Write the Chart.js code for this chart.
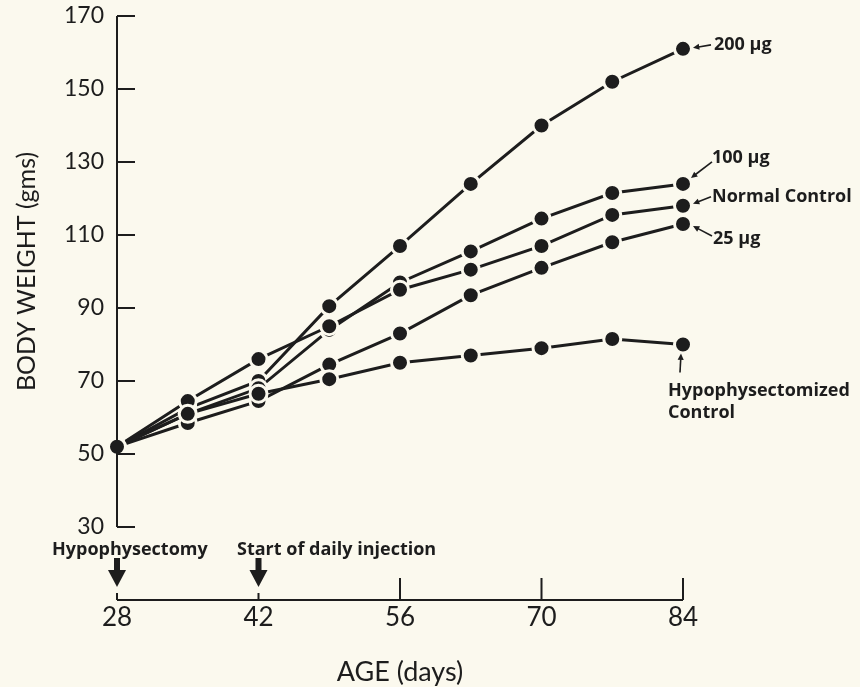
<!DOCTYPE html>
<html>
<head>
<meta charset="utf-8">
<script src="https://cdn.jsdelivr.net/npm/chart.js@4.4.0/dist/chart.umd.min.js"></script>
<style>
  html, body { margin: 0; padding: 0; background: #fbf9ee; }
  #wrap { width: 860px; height: 687px; }
</style>
</head>
<body>
<div id="wrap"><canvas id="grafico"></canvas></div>
<script>
// Datos (peso corporal en gramos por edad en días)
const ages = [28, 35, 42, 49, 56, 63, 70, 77, 84];
const dose200 = [52, 62.5, 70, 90.5, 107, 124, 140, 152, 161];
const dose100 = [52, 61, 68, 84, 97, 105.5, 114.5, 121.5, 124];
const normalControl = [52, 64.5, 76, 85, 95, 100.5, 107, 115.5, 118];
const dose25 = [52, 58.5, 64.5, 74.5, 83, 93.5, 101, 108, 113];
const hypoControl = [52, 61, 66.5, 70.5, 75, 77, 79, 81.5, 80];
const xTicks = [28, 42, 56, 70, 84];
const yTicks = [30, 50, 70, 90, 110, 130, 150, 170];

const ink = "#1d1d1d";
const paper = "#fbf9ee";

const serie = (label, values) => ({
  label: label,
  data: ages.map((a, i) => ({ x: a, y: values[i] })),
  borderColor: ink,
  borderWidth: 3,
  pointRadius: 8.5,
  pointBackgroundColor: ink,
  pointBorderColor: paper,
  pointBorderWidth: 3,
  tension: 0,
  clip: false,
});

const arrow = (ctx, x1, y1, x2, y2, head) => {
  const ang = Math.atan2(y2 - y1, x2 - x1);
  ctx.beginPath();
  ctx.moveTo(x1, y1);
  ctx.lineTo(x2 - Math.cos(ang) * head * 0.8, y2 - Math.sin(ang) * head * 0.8);
  ctx.stroke();
  ctx.beginPath();
  ctx.moveTo(x2, y2);
  ctx.lineTo(x2 - head * Math.cos(ang - 0.45), y2 - head * Math.sin(ang - 0.45));
  ctx.lineTo(x2 - head * Math.cos(ang + 0.45), y2 - head * Math.sin(ang + 0.45));
  ctx.closePath();
  ctx.fill();
};

// Ejes, flechas y rótulos dibujados con las escalas del gráfico
const ejes = {
  id: "ejes",
  afterDraw(chart) {
    const ctx = chart.ctx;
    const x = chart.scales.x;
    const y = chart.scales.y;
    const left = x.getPixelForValue(28);
    const bottom = chart.chartArea.bottom;
    ctx.save();
    ctx.strokeStyle = ink;
    ctx.fillStyle = ink;
    ctx.lineWidth = 2;

    // eje y y sus marcas
    ctx.beginPath();
    ctx.moveTo(left, y.getPixelForValue(170));
    ctx.lineTo(left, y.getPixelForValue(30));
    yTicks.forEach((v) => {
      ctx.moveTo(left, y.getPixelForValue(v));
      ctx.lineTo(left + 18, y.getPixelForValue(v));
    });
    // eje x y sus marcas
    ctx.moveTo(left, bottom);
    ctx.lineTo(x.getPixelForValue(84), bottom);
    xTicks.forEach((v) => {
      const h = v <= 42 ? 7 : 22;
      ctx.moveTo(x.getPixelForValue(v), bottom);
      ctx.lineTo(x.getPixelForValue(v), bottom - h);
    });
    ctx.stroke();

    // títulos de los ejes
    ctx.font = "25px Lato";
    ctx.textAlign = "center";
    ctx.textBaseline = "middle";
    ctx.save();
    ctx.translate(27, (y.getPixelForValue(30) + y.getPixelForValue(170)) / 2);
    ctx.rotate(-Math.PI / 2);
    ctx.fillText("BODY WEIGHT (gms)", 0, 0);
    ctx.restore();
    ctx.font = "27px Lato";
    ctx.fillText("AGE (days)", (left + x.getPixelForValue(84)) / 2, 672);

    // flechas gruesas de eventos
    ctx.font = "bold 18px 'Open Sans'";
    ctx.textAlign = "left";
    ctx.fillText("Hypophysectomy", 52, 550);
    ctx.fillText("Start of daily injection", 237, 550);
    [28, 42].forEach((v) => {
      const px = x.getPixelForValue(v);
      ctx.fillRect(px - 3, 558, 6, 13);
      ctx.beginPath();
      ctx.moveTo(px - 9, 570);
      ctx.lineTo(px + 9, 570);
      ctx.lineTo(px, 587);
      ctx.closePath();
      ctx.fill();
    });

    // rótulos de las series
    const fin = (values) => ({
      px: x.getPixelForValue(84),
      py: y.getPixelForValue(values[values.length - 1]),
    });
    ctx.lineWidth = 1.6;
    let p = fin(dose200);
    ctx.fillText("200 µg", p.px + 31, p.py - 4);
    arrow(ctx, p.px + 28, p.py - 4, p.px + 10, p.py - 1, 7);
    p = fin(dose100);
    ctx.fillText("100 µg", p.px + 29, p.py - 26);
    arrow(ctx, p.px + 29, p.py - 22, p.px + 8, p.py - 6, 7);
    p = fin(normalControl);
    ctx.fillText("Normal Control", p.px + 29, p.py - 9);
    arrow(ctx, p.px + 28, p.py - 9, p.px + 10, p.py - 2, 7);
    p = fin(dose25);
    ctx.fillText("25 µg", p.px + 30, p.py + 15);
    arrow(ctx, p.px + 29, p.py + 12, p.px + 10, p.py + 2, 7);
    p = fin(hypoControl);
    arrow(ctx, p.px - 3, p.py + 28, p.px - 2, p.py + 9, 7);
    ctx.fillText("Hypophysectomized", p.px - 15, p.py + 46);
    ctx.fillText("Control", p.px - 15, p.py + 68);
    ctx.restore();
  },
};

new Chart(document.getElementById("grafico"), {
  type: "line",
  data: {
    datasets: [
      serie("Hypophysectomized Control", hypoControl),
      serie("25 µg", dose25),
      serie("Normal Control", normalControl),
      serie("100 µg", dose100),
      serie("200 µg", dose200),
    ],
  },
  options: {
    responsive: true,
    maintainAspectRatio: false,
    animation: false,
    layout: { padding: { top: 16, right: 177, bottom: 0, left: 0 } },
    scales: {
      x: {
        type: "linear",
        min: 28,
        max: 84,
        afterBuildTicks: (s) => { s.ticks = xTicks.map((v) => ({ value: v })); },
        afterFit: (s) => { s.height = 87; },
        grid: { display: false, drawTicks: false },
        border: { display: false },
        ticks: { color: ink, font: { family: "Lato", size: 26 }, padding: 2 },
      },
      y: {
        min: 10,
        max: 170,
        afterBuildTicks: (s) => { s.ticks = yTicks.map((v) => ({ value: v })); },
        afterFit: (s) => {
          s.width = 117;
          s.paddingTop = 0;
          s.paddingBottom = 0;
        },
        grid: { display: false, drawTicks: false },
        border: { display: false },
        ticks: { color: ink, font: { family: "Lato", size: 23 }, padding: 13 },
      },
    },
    plugins: {
      legend: { display: false },
      tooltip: { enabled: false },
    },
  },
  plugins: [ejes],
});
</script>
</body>
</html>
